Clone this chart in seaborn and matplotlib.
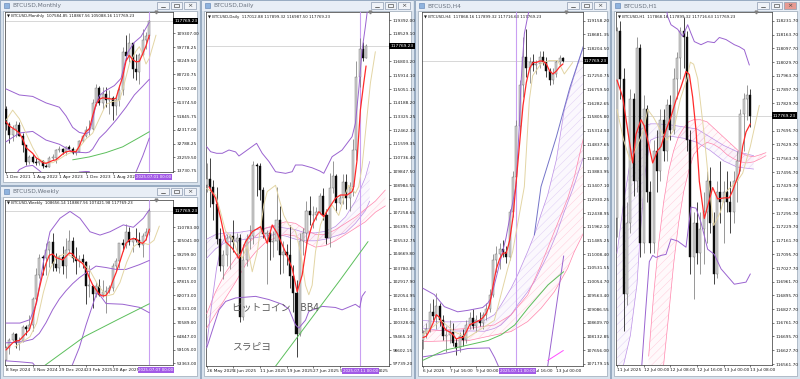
import numpy as np
import matplotlib
matplotlib.use("Agg")
import matplotlib.pyplot as plt
from matplotlib.patches import Rectangle
from matplotlib.transforms import blended_transform_factory, offset_copy
import seaborn as sns

sns.set_theme(style="white")
plt.rcParams["font.family"] = ["DejaVu Sans", "Noto Sans CJK JP"]
plt.rcParams["hatch.linewidth"] = 0.3

# ======================= DATA =======================
CURRENT = 117769.23

# ---- Monthly (Dec 2021 .. Jul 2025) ----
mn_open = [57000, 46200, 38500, 43200, 45500, 37700, 31800, 19900, 23300, 20000, 19400, 20500, 17200, 16500, 23100, 23100,
           28500, 29200, 27200, 30500, 29200, 26000, 27000, 34600, 37700, 42300, 42600, 61100, 71300, 60600, 67500, 62700,
           64600, 59000, 63300, 70200, 96400, 93400, 102400, 84300, 82500, 94200, 104600, 107585]
mn_high = [59000, 47900, 45800, 48200, 47400, 40000, 31900, 24600, 25200, 22800, 21000, 21400, 18400, 23900, 25200, 29200,
           31000, 29800, 31400, 31800, 30200, 27500, 35200, 38400, 44700, 48900, 64000, 73800, 72700, 71900, 72000, 70000,
           65600, 66500, 73600, 99600, 108300, 109600, 102500, 95000, 95700, 112000, 110500, 118868]
mn_low = [42000, 33000, 34300, 37200, 37700, 26700, 17600, 18800, 19600, 18200, 18200, 15500, 16300, 16500, 21400, 19600,
          27000, 25800, 24800, 28900, 25300, 24900, 26600, 34100, 37600, 38500, 41900, 59000, 59200, 56600, 58400, 53500,
          49100, 52600, 58900, 66800, 90500, 89200, 78200, 76600, 74400, 93400, 98200, 105088]
mn_close = [46200, 38500, 43200, 45500, 37700, 31800, 19900, 23300, 20000, 19400, 20500, 17200, 16500, 23100, 23100, 28500,
            29200, 27200, 30500, 29200, 26000, 27000, 34600, 37700, 42300, 42600, 61100, 71300, 60600, 67500, 62700, 64600,
            59000, 63300, 70200, 96400, 93400, 102400, 84300, 82500, 94200, 104600, 107100, 117769.23]
mn_red = [48000, 45000, 43500, 42000, 40000, 36000, 30000, 28000, 26000, 23000, 21500, 19500, 19000, 20000, 21000, 21500,
          23500, 25500, 27000, 27500, 27300, 27100, 31000, 37000, 41000, 43000, 52000, 60000, 63500, 64500, 64200, 64000,
          63500, 64200, 72000, 79000, 90000, 94000, 91000, 89500, 89800, 95000, 100500, 108000]
mn_beige = [(0, 49000), (2, 56000), (4, 50000), (6, 40000), (8, 30000), (10, 22000), (12, 19500), (14, 19500), (16, 22000),
            (18, 25000), (20, 27000), (22, 30000), (24, 36000), (26, 40000), (28, 50000), (30, 60000), (32, 62000),
            (34, 62500), (35, 70000), (37, 88000), (39, 97000), (40, 100000), (41, 95000), (42, 88000), (43, 92000),
            (44, 100000), (45, 108000)]
mn_upper = [(0, 70700), (4, 66500), (8, 65500), (12, 61000), (16, 58000), (18, 52000), (20, 44000), (22, 40500), (24, 39500),
            (25, 41000), (26, 49000), (27, 60000), (28, 66000), (29.5, 69000), (32.5, 73000), (34.5, 78000), (36.5, 96000),
            (38.5, 103000), (40.5, 107000), (43, 117000)]
mn_mid = [(0, 34000), (4, 40100), (8, 41200), (12, 35200), (16, 32300), (20, 27000), (22, 26700), (24, 26400), (25, 26900),
          (26, 29000), (28, 36500), (30, 41000), (33, 49000), (36, 58000), (38.5, 66500), (41, 72500), (43, 77400)]
mn_lower = [(0, 2000), (2, 8000), (4, 14700), (6, 17000), (8, 17600), (10, 14000), (12, 10000), (14, 7000), (16, 6500),
            (18, 8000), (20, 9500), (22, 13000), (24, 13400), (25, 13300), (26, 9000), (28, 3000), (32, 3000), (36, 5000),
            (38, 8000), (39, 13000), (41, 24000), (43, 36600)]
mn_green = [(20, 21500), (25, 23500), (30, 26500), (35, 30500), (40, 37000), (43, 41000)]
mn_yticks = [13730.75, 23259.50, 32788.25, 42317.00, 51845.75, 61374.50, 71192.00, 80720.75, 90249.50, 99778.25, 109307.00]
mn_xticks = [0, 8, 16, 24, 32]
mn_xlabels = ["1 Dec 2021", "1 Aug 2022", "1 Apr 2023", "1 Dec 2023", "1 Aug 2024"]

# ---- Weekly (8 Sep 2024 .. 7 Jul 2025) ----
wk_open = [54800, 60000, 63300, 65600, 62100, 62900, 68900, 68000, 69400, 80400, 90500, 98000, 97900, 101200, 104500, 95200,
           93700, 98300, 94500, 101300, 104800, 97700, 96500, 97500, 96200, 86000, 86200, 82600, 86100, 82400, 83500, 83800,
           85200, 94600, 96500, 104100, 103200, 109000, 104600, 105700, 105500, 103300, 107300, 108656]
wk_high = [60600, 64100, 66500, 66000, 64500, 69400, 69500, 73600, 81500, 93500, 99600, 98900, 104000, 105000, 108300, 99900,
           98900, 102700, 106400, 109600, 106500, 102500, 99000, 99500, 96500, 95000, 86300, 87500, 88800, 88500, 86100,
           86500, 95700, 97900, 104200, 105800, 112000, 110700, 106800, 110600, 108900, 108500, 110600, 118868]
wk_low = [54600, 57500, 62700, 59800, 58900, 62400, 65200, 67500, 66800, 80200, 89500, 90800, 90500, 94200, 92200, 92500,
          91500, 91200, 89300, 99500, 96000, 91200, 94100, 93400, 78200, 81200, 76600, 81200, 81600, 81300, 74400, 83000,
          84000, 92800, 93400, 100700, 102000, 103100, 100400, 104400, 102500, 98200, 105300, 107422]
wk_close = [60000, 63300, 65600, 62100, 62900, 68900, 68000, 69400, 80400, 90500, 98000, 97900, 101200, 104500, 95200, 93700,
            98300, 94500, 101300, 104800, 97700, 96500, 97500, 96200, 86000, 86200, 82600, 86100, 82400, 83500, 83800, 85200,
            94600, 96500, 104100, 103200, 109000, 104600, 105700, 105500, 103300, 107300, 108800, 117769.23]
wk_red = [59000, 60500, 62000, 62800, 63000, 64500, 66000, 67500, 72000, 78500, 85000, 91000, 95500, 99000, 99500, 98000,
          97500, 97000, 98500, 100000, 99500, 97500, 96500, 95500, 93000, 89500, 86500, 84500, 82500, 81800, 82000, 84000,
          88000, 91500, 95500, 100000, 104000, 105500, 106000, 106000, 104500, 104000, 105500, 110000]
wk_beige = [(2.7, 60350), (7.2, 64600), (9.2, 70350), (11.2, 83200), (13.2, 93200), (15.2, 98200), (17.7, 99600),
            (20.2, 98200), (22.7, 96000), (25.2, 92500), (27.7, 86100), (30.2, 81800), (32.2, 82500), (34.2, 87500),
            (36.2, 96000), (38.2, 102500), (40.2, 104600), (42.7, 103500), (44.4, 105300), (46, 111300)]
wk_upper = [(0, 70350), (4.2, 70350), (7.2, 71800), (9.2, 78900), (11.2, 96000), (13.2, 108900), (16.2, 114600),
            (19.2, 117500), (22.2, 114600), (25.2, 108900), (28.2, 107500), (31.2, 108900), (35.2, 111800), (38.2, 110800),
            (41.2, 114600), (43, 118200)]
wk_mid = [(0, 62000), (5, 62500), (8, 63500), (10, 66000), (12, 70500), (14, 76000), (16, 80500), (18, 84000), (20, 87000),
          (22, 89500), (24, 91500), (27, 94400), (30, 93800), (33, 93000), (36, 93000), (40, 95000), (43, 96800)]
wk_lower = [(0, 54400), (4, 54000), (8, 53500), (10, 50000), (12, 46000), (15, 44000), (18, 48000), (19.7, 52000),
            (22, 60000), (24, 69500), (26, 78000), (27.2, 83000), (28, 82500), (30, 78600), (35, 78300), (40, 77000),
            (43, 74700)]
wk_green = [(11, 51800), (23.5, 64600), (33.5, 71800), (43, 78500)]
wk_yticks = [53363.00, 59105.00, 64847.00, 70589.00, 76331.00, 82073.00, 87815.00, 93557.00, 99299.00, 105041.00, 110783.00]
wk_xticks = [0, 8, 16, 24, 32]
wk_xlabels = ["8 Sep 2024", "3 Nov 2024", "29 Dec 2024", "23 Feb 2025", "20 Apr 2025"]

# ---- Daily (26 May 2025 .. 13 Jul 2025) ----
d_open = [109000, 109400, 108900, 107800, 105600, 103900, 104600, 105700, 105800, 105400, 105700, 100700, 104300, 105600,
          105800, 110300, 110200, 108700, 105900, 106000, 105400, 105500, 106800, 104600, 104800, 104600, 103300, 102200,
          99600, 105500, 106000, 107400, 107100, 107100, 107300, 108300, 107100, 105700, 108800, 109600, 107900, 108200,
          109200, 108200, 108900, 111200, 115800, 117600, 117012.88]
d_high = [110400, 110700, 109300, 108900, 106300, 104900, 105900, 105900, 106800, 106000, 105900, 105300, 105900, 106500,
          110500, 110400, 110400, 108900, 106200, 106200, 106100, 108900, 107700, 105500, 105300, 106500, 104000, 103000,
          106000, 106300, 108000, 108300, 107700, 107600, 108500, 108800, 107500, 109800, 110500, 109700, 108400, 109700,
          109700, 109200, 111900, 116800, 118300, 118000, 117899.32]
d_low = [108600, 107600, 106800, 105300, 103600, 103100, 103900, 103700, 104800, 104400, 100400, 100500, 103900, 105000,
         105300, 108300, 108100, 105700, 102800, 104300, 104500, 104900, 103400, 103500, 104000, 102500, 101000, 98200,
         99500, 104600, 105100, 106500, 106300, 106800, 107200, 106800, 105300, 105100, 108500, 107300, 107800, 107800,
         107500, 107400, 108300, 110600, 115200, 116800, 116987.50]
d_close = [109400, 108900, 107800, 105600, 103900, 104600, 105700, 105800, 105400, 105700, 100700, 104300, 105600, 105800,
           110300, 110200, 108700, 105900, 106000, 105400, 105500, 106800, 104600, 104800, 104600, 103300, 102200, 99600,
           105500, 106000, 107400, 107100, 107100, 107300, 108300, 107100, 105700, 108800, 109600, 107900, 108200, 109200,
           108200, 108900, 111200, 115800, 117600, 117012.88, 117769.23]
d_red = [(0.7, 108900), (2.7, 108178), (4.2, 106918), (5.7, 105447), (7.7, 105025), (9.7, 104398), (11.7, 105447),
         (13.7, 106074), (16.2, 106390), (18.2, 105340), (19.7, 106496), (21.2, 105970), (23.2, 105025), (25.7, 103765),
         (27.2, 102294), (28.7, 103345), (30.2, 105447), (31.7, 106496), (33.7, 107334), (35.2, 107020), (36.7, 107545),
         (38.7, 108178), (40.2, 108386), (42.2, 108386), (43.7, 108594), (44.2, 108909), (45.2, 110591), (46.2, 113741),
         (47.2, 115423), (47.9, 116513)]
d_beige = [(0, 108800), (2.7, 108400), (4.2, 107300), (5.7, 106100), (7.7, 105700), (9.2, 104800), (10.7, 104400),
           (12.2, 105200), (13.7, 103550), (15.2, 104800), (16.2, 106300), (17.2, 107800), (18.2, 108600), (20.7, 109000),
           (21.7, 108200), (23.2, 107100), (24.7, 106500), (26.7, 106100), (28.2, 104800), (29.7, 102700), (30.7, 102100),
           (31.7, 102700), (32.7, 104800), (34.2, 106500), (35.7, 107300), (37.7, 107750), (39.7, 107100), (41.2, 108200),
           (42.7, 109000), (44.7, 108500), (45.7, 108909), (46.7, 110169), (47.7, 112273), (49.2, 115423), (50.7, 117414)]
d_upper = [(0, 111429), (1.2, 111114), (3, 111013), (4.7, 111013), (6.7, 111221), (8.7, 111100), (9.7, 110843),
           (12.2, 111221), (15, 111643), (16.7, 111013), (18.7, 110500), (20.7, 109854), (23.7, 109750), (25.7, 109854),
           (26.7, 110276), (28.7, 110276), (31.7, 110100), (34, 109900), (35.2, 109753), (37.7, 110800), (40.7, 111221),
           (43.7, 112059), (44.7, 112900), (45.7, 115000), (46.7, 117500), (47.7, 119000), (48.3, 120000)]
d_lower = [(0, 98750), (3.7, 101150), (5.7, 101680), (8.7, 101900), (14.7, 102000), (18.7, 101800), (22.7, 101500),
           (24.7, 101200), (26.7, 100200), (27.7, 100000), (29.7, 100500), (30.7, 101050), (34.7, 101370), (38.7, 101300),
           (40.7, 101150), (44.7, 101500), (46, 101300), (46.7, 102000), (47.7, 102300)]
d_green = [(20.7, 97600), (30, 100200), (40, 103000), (48.5, 105450)]
d_pink_ribbon = [(0, 100900, 100000), (2.7, 102300, 100900), (5.7, 103500, 101900), (8.7, 104400, 102900),
                 (11.7, 105200, 104000), (14.7, 105800, 104800), (17.7, 106300, 105400), (20.7, 106500, 105700),
                 (23.7, 106700, 105900), (26.7, 106600, 105800), (29.7, 106200, 105400), (32.7, 105900, 105100),
                 (35.7, 105900, 105200), (38.7, 106200, 105500), (41.7, 106600, 105900), (44.7, 107000, 106300),
                 (47.7, 107500, 106700), (50.7, 108000, 107300), (53.7, 108700, 107700)]
d_purple_ribbon = [(0, 105600, 104400), (2.7, 105900, 105000), (5.7, 106000, 105400), (8.7, 106000, 105500),
                   (11.7, 106100, 105600), (14.7, 106200, 105700), (17.7, 106300, 105800), (20.7, 106400, 105900),
                   (23.7, 106300, 105800), (26.7, 106200, 105600), (29.7, 106000, 105500), (32.7, 106000, 105500),
                   (35.7, 106100, 105600), (38.7, 106400, 105800), (41.7, 107000, 106000), (44.7, 108000, 106600),
                   (47.7, 109500, 107400), (49, 110500, 108000)]
d_purple_lead = [(0, 98900), (1.5, 101500), (3, 103800), (4.5, 105300), (6, 105900)]
d_yticks = [97739.20, 98602.15, 99465.10, 100328.05, 101191.00, 102054.95, 102917.90, 103780.85, 104669.80, 105532.75,
            106395.70, 107258.65, 108121.60, 108984.55, 109847.50, 110736.40, 111599.35, 112462.30, 113325.25, 114188.20,
            115051.15, 115914.10, 116803.20, 118529.10, 119392.00]
d_xticks = [0, 8, 16, 24, 32, 40]
d_xlabels = ["26 May 2025", "3 Jun 2025", "11 Jun 2025", "19 Jun 2025", "27 Jun 2025", "5"]
d_tail_label = (51.4, "2025")

# ---- H4 (6 Jul 08:00 .. 13 Jul 08:00) ----
h4_open = [108000, 108250, 108400, 109000, 108850, 109200, 108700, 108150, 108200, 108300, 107900, 107750, 108150, 108000,
           108550, 108800, 108500, 108700, 108600, 108900, 109100, 109600, 110800, 111000, 111200, 111100, 110900, 112500,
           113700, 115500, 116900, 117900, 117500, 117700, 117600, 117650, 117900, 117700, 117400, 117100, 117300, 117700,
           117868.16]
h4_high = [108350, 108600, 109300, 109450, 109650, 109300, 108900, 108500, 108700, 108600, 108100, 108300, 108400, 108700,
           109000, 109100, 108900, 109000, 109000, 109300, 109800, 111000, 111300, 111400, 111500, 111300, 112600, 113900,
           115700, 117100, 118600, 118870, 117900, 118000, 117800, 118100, 118100, 117900, 117500, 117500, 117800, 117950,
           117899.32]
h4_low = [107700, 108100, 108300, 108700, 108400, 108500, 108000, 107600, 107900, 107800, 107500, 107600, 107800, 107900,
          108400, 108400, 108300, 108500, 108400, 108700, 109000, 109500, 110400, 110500, 110900, 110700, 110800, 112300,
          113500, 115300, 116500, 117200, 117000, 117400, 117300, 117500, 117600, 117200, 116900, 116950, 117200, 117600,
          117716.63]
h4_close = [108250, 108400, 109000, 108850, 109200, 108700, 108150, 108200, 108300, 107900, 107750, 108150, 108000, 108550,
            108800, 108500, 108700, 108600, 108900, 109100, 109600, 110800, 111000, 111200, 111100, 110900, 112500, 113700,
            115500, 116900, 117900, 117500, 117700, 117600, 117650, 117900, 117700, 117400, 117100, 117300, 117700,
            117868.16, 117769.23]
h4_red = [108100, 108150, 108350, 108600, 108900, 108800, 108500, 108350, 108300, 108200, 108050, 108100, 108100, 108300,
          108550, 108600, 108650, 108700, 108800, 108950, 109250, 109900, 110500, 110850, 111050, 111050, 111500, 112300,
          113600, 114900, 116200, 117000, 117500, 117700, 117700, 117750, 117750, 117650, 117400, 117300, 117400, 117550,
          117650]
h4_beige = [(0, 108200), (5.4, 108700), (9.4, 108300), (13.4, 108100), (17.4, 108400), (21.4, 108700), (23.4, 109600),
            (25.4, 110500), (26.9, 111100), (30.4, 113367), (31.9, 116391), (32.9, 117240), (35.4, 117660), (37.9, 117770),
            (40.4, 117770), (42.4, 117300), (44.9, 117700)]
h4_upper = [(0, 109820), (3.4, 109600), (6.4, 109180), (10.4, 109000), (13.4, 109050), (17.9, 109150), (19.4, 109300),
            (20.4, 109470), (21.9, 110170), (23.4, 110870), (24.9, 111580), (26.4, 112510), (27.9, 113400), (28.9, 115500),
            (29.4, 117000), (30.4, 118700), (31.4, 119300), (32.4, 119800)]
h4_lower_a = [(0, 107430), (5.4, 107520), (13.4, 107720), (19.9, 107740), (21.5, 107400), (23.4, 106900)]
h4_lower_b = [(36.5, 106900), (37.4, 107100), (42.2, 110950)]
h4_magenta = [(37.4, 107300), (42.1, 107650)]
h4_green = [(0, 107310), (6.5, 107660), (13.5, 107840), (19.5, 108000), (23.5, 108200), (27.5, 108540), (31.5, 109130),
            (37.5, 109940), (42.2, 110400)]
h4_blue = [(33.4, 111681), (35.4, 113367), (40, 115100), (44, 116800), (48.4, 118370)]
h4_purple_ribbon = [(0, 108700, 108430), (5, 108650, 108350), (10, 108650, 108330), (15, 108680, 108330),
                    (18.4, 108700, 108320), (21.4, 108900, 108420), (23.4, 109240, 108540), (26.4, 109820, 108890),
                    (28.4, 110290, 109240), (31.4, 111100, 109700), (33.4, 111681, 110050), (35.4, 112400, 110520),
                    (37.4, 113076, 110980), (40, 114300, 111700), (42.4, 116060, 112500), (45, 117100, 113300),
                    (48.4, 118370, 114500)]
h4_pink_ribbon = [(0, 108310, 107960), (8.4, 108380, 107990), (13.4, 108420, 107990), (21.4, 108541, 108190),
                  (26.4, 108890, 108310), (31.4, 109590, 108660), (35.4, 110636, 109120), (39.4, 111800, 109700),
                  (43.4, 112960, 110520), (45.4, 113700, 111099), (48.4, 115200, 111800)]
h4_yticks = [107179.15, 107656.00, 108132.85, 108609.70, 109086.55, 109563.40, 110054.70, 110531.55, 111008.40, 111485.25,
             111962.10, 112438.95, 112930.25, 113407.10, 113883.95, 114360.80, 114837.65, 115314.50, 115805.80, 116282.65,
             116759.50, 117250.75, 118204.50, 118681.35, 119158.20]
h4_xticks = [0, 8, 16, 40]
h4_xlabels = ["6 Jul 2025", "7 Jul 16:00", "9 Jul 00:00", "13 Jul 00:00"]
h4_tail_label = (33.3, "Jul 16:00")

# ---- H1 (11 Jul 16:00 .. 13 Jul 08:00) ----
h1_open = [117270, 118180, 117950, 116900, 117250, 117850, 117450, 118100, 117150, 117800, 117400, 117150, 117600, 117500,
           117750, 117600, 117820, 117700, 117950, 118050, 118180, 118150, 117650, 117080, 117250, 117100, 117220, 117300,
           117450, 117250, 117000, 117400, 117350, 117400, 117350, 117300, 117450, 117550, 117780, 117850, 117868.16]
h1_high = [118200, 118230, 118000, 117350, 117900, 117880, 118150, 118120, 117870, 117820, 117450, 117650, 117700, 117800,
           117800, 117850, 117870, 118000, 118080, 118200, 118250, 118180, 117700, 117300, 117350, 117300, 117400, 117500,
           117520, 117300, 117450, 117550, 117450, 117500, 117450, 117500, 117600, 117800, 117880, 117920, 117899.32]
h1_low = [117180, 117850, 116720, 116850, 117200, 117380, 117400, 117080, 117100, 117350, 117100, 117100, 117400, 117450,
          117550, 117550, 117650, 117680, 117850, 117950, 118000, 117600, 117000, 116880, 117050, 117000, 117050, 117150,
          117200, 116950, 116980, 117250, 117150, 117300, 117200, 117250, 117350, 117500, 117600, 117750, 117716.63]
h1_close = [118180, 117950, 116900, 117250, 117850, 117450, 118100, 117150, 117800, 117400, 117150, 117600, 117500, 117750,
            117600, 117820, 117700, 117950, 118050, 118180, 118150, 117650, 117080, 117250, 117100, 117220, 117300, 117450,
            117250, 117000, 117400, 117350, 117400, 117350, 117300, 117450, 117550, 117780, 117850, 117868.16, 117769.23]
h1_red = [(0, 117943), (1.7, 117860), (3.2, 117700), (4.7, 117540), (5.7, 117680), (7.2, 117750), (8.2, 117720),
          (9.2, 117650), (10.7, 117540), (12.2, 117600), (13.2, 117620), (14.7, 117700), (16.2, 117765), (17.7, 117845),
          (19.2, 117910), (20.7, 117985), (21.7, 117970), (22.7, 117860), (23.7, 117700), (24.7, 117450), (26.2, 117270),
          (27.2, 117330), (28.7, 117420), (30.2, 117365), (32.2, 117370), (33.7, 117370), (34.7, 117405), (35.7, 117450),
          (36.7, 117490), (37.7, 117620), (38.7, 117690), (40, 117730)]
h1_beige = [(0, 117800), (2, 117650), (4, 117550), (6, 117620), (8, 117700), (9.2, 117800), (11, 117760), (13, 117700),
            (15, 117650), (17, 117700), (19, 117850), (21, 117950), (22, 118030), (23, 118020), (24.2, 117950), (26, 117700),
            (27.5, 117450), (29, 117235), (31, 117300), (32.7, 117400), (34, 117420), (36, 117450), (37.7, 117490),
            (40, 117620), (42.7, 117820)]
h1_upper = [(14.5, 118320), (15.2, 118252), (16.2, 118212), (18.2, 118190), (19.7, 118155), (21.2, 118212), (22.2, 118170),
            (23.2, 118130), (25.2, 118115), (27.2, 118130), (29.2, 118125), (30.7, 118150), (32.7, 118140), (35.2, 118115),
            (36.7, 118105), (38.2, 118090), (39.7, 118016)]
h1_lower = [(7.2, 116500), (8.5, 116800), (9.7, 117060), (10.7, 117090), (11.7, 117080), (13.2, 117090), (14.7, 117095),
            (16.2, 117170), (18.2, 117160), (20.7, 117130), (22.2, 117325), (23.7, 117320), (25.2, 117250), (27.2, 117120),
            (29.2, 117095), (31.2, 117025), (35.2, 116950), (38.7, 116960), (40, 117000)]
h1_purple_ribbon = [(0, 117100, 116500), (2, 117350, 116560), (4, 117550, 116700), (6, 117680, 116950), (7, 117700, 117200),
                    (8.5, 117720, 117500), (10, 117730, 117650), (12, 117730, 117665), (16, 117725, 117670),
                    (20, 117715, 117660), (24, 117705, 117640), (28, 117665, 117600), (32, 117625, 117550),
                    (36, 117595, 117520), (41, 117575, 117510)]
h1_pink_ribbon = [(9.5, 116600, 116500), (11, 116900, 116500), (12.5, 117150, 116520), (14, 117350, 116560),
                  (15.5, 117500, 116800), (17, 117600, 117050), (18.5, 117670, 117250), (20, 117710, 117400),
                  (21.5, 117740, 117500), (23, 117750, 117580), (25, 117750, 117620), (27, 117740, 117640),
                  (29, 117710, 117630), (31, 117680, 117610), (33, 117650, 117580), (35, 117620, 117560),
                  (37, 117590, 117545), (39, 117575, 117540), (41, 117570, 117545), (43, 117580, 117560),
                  (44.7, 117590, 117575)]
h1_yticks = [116561.70, 116627.70, 116695.70, 116761.70, 116827.70, 116895.70, 116961.70, 117027.70, 117095.70, 117161.70,
             117229.70, 117295.70, 117361.70, 117429.70, 117495.70, 117563.70, 117629.70, 117695.70, 117829.70, 117897.70,
             117963.70, 118029.70, 118097.70, 118163.70, 118231.70]
h1_xticks = [0, 8, 16, 24, 32, 40]
h1_xlabels = ["11 Jul 2025", "12 Jul 00:00", "12 Jul 08:00", "12 Jul 16:00", "13 Jul 00:00", "13 Jul 08:00"]

# ======================= COLOURS =======================
RED = "#ff2a2a"
BEIGE = "#e3d5a4"
PURPLE = "#9a63d0"
GREEN = "#5cbf5c"
CURSOR = "#c9a0f2"
PINK_EDGE = "#ff86ad"
PINK_HATCH = "#ffc4d6"
PURP_EDGE = "#bb8fe6"
PURP_HATCH = "#dcc8f3"

W_PX, H_PX = 800, 379
fig = plt.figure(figsize=(8.0, 3.79), dpi=100)
fig.patch.set_facecolor("#c3d0de")

bg = fig.add_axes([0, 0, 1, 1])
bg.set_xlim(0, W_PX)
bg.set_ylim(H_PX, 0)
bg.axis("off")


def window(title, x0, y0, x1, y1, active=False):
    w, h = x1 - x0, y1 - y0
    bg.add_patch(Rectangle((x0, y0), w, h, facecolor="#d8e2ed", edgecolor="#90a4bc", lw=0.6))
    bg.add_patch(Rectangle((x0 + 1, y0 + 1), w - 2, 9.5, facecolor="#e8eef6", edgecolor="none"))
    bg.add_patch(Rectangle((x0 + 4, y0 + 3), 5, 5, facecolor="#8fb3de", edgecolor="#5a7fb0", lw=0.4))
    bg.text(x0 + 12, y0 + 6, title, fontsize=4.2, color="#6a7380", va="center", ha="left")
    for k in range(3):
        bx = x1 - 43 + k * 13.5
        fc = "#e79a92" if (active and k == 2) else "#f0f3f8"
        bg.add_patch(Rectangle((bx, y0 + 2), 11.5, 7.2, facecolor=fc, edgecolor="#8d9bb0", lw=0.5))
    bg.plot([x1 - 39.5, x1 - 35.0], [y0 + 6.8, y0 + 6.8], color="#555", lw=0.6)
    bg.add_patch(Rectangle((x1 - 26.0, y0 + 4.0), 4.5, 3.4, facecolor="none", edgecolor="#555", lw=0.5))
    bg.text(x1 - 10.2, y0 + 5.8, "×", fontsize=4.5, color="#444", ha="center", va="center")
    bg.add_patch(Rectangle((x0 + 3, y0 + 10.5), w - 6, h - 13.5, facecolor="white", edgecolor="#9aa7b6", lw=0.5))


window("BTCUSD,Monthly", 0, 0, 200, 185)
window("BTCUSD,Weekly", 0, 186, 200, 379)
window("BTCUSD,Daily", 201, 0, 414, 379)
window("BTCUSD,H4", 415, 0, 610, 379)
window("BTCUSD,H1", 611, 0, 800, 379, active=True)


def px_axes(x0, y0, x1, y1):
    return fig.add_axes([x0 / W_PX, 1 - y1 / H_PX, (x1 - x0) / W_PX, (y1 - y0) / H_PX])


def candles(ax, o, h, l, c, minh):
    o, h, l, c = (np.asarray(v, float) for v in (o, h, l, c))
    x = np.arange(len(o))
    bull = c >= o
    ax.vlines(x[bull], l[bull], h[bull], color="#7c7c7c", lw=0.55, zorder=4)
    ax.vlines(x[~bull], l[~bull], h[~bull], color="#111111", lw=0.55, zorder=4)
    bottom = np.minimum(o, c)
    height = np.maximum(np.abs(c - o), minh)
    ax.bar(x[bull], height[bull], bottom=bottom[bull], width=0.64, color="#d2d2d2", edgecolor="#6a6a6a",
           linewidth=0.3, zorder=5)
    ax.bar(x[~bull], height[~bull], bottom=bottom[~bull], width=0.64, color="#0b0b0b", edgecolor="#0b0b0b",
           linewidth=0.3, zorder=5)


def line(ax, pts, color, lw, z=6):
    xs = [p[0] for p in pts]
    ys = [p[1] for p in pts]
    sns.lineplot(x=xs, y=ys, ax=ax, color=color, linewidth=lw, sort=False, estimator=None, legend=False, zorder=z)


def series(vals):
    return list(enumerate(vals))


def ribbon(ax, trip, edge, hatch_col, fill):
    xs = [t[0] for t in trip]
    top = [t[1] for t in trip]
    bot = [t[2] for t in trip]
    ax.fill_between(xs, bot, top, facecolor=fill, edgecolor=hatch_col, hatch="////", linewidth=0, zorder=2)
    line(ax, list(zip(xs, top)), edge, 0.5, z=3)
    line(ax, list(zip(xs, bot)), edge, 0.5, z=3)


def finish(ax, xlim, ylim, yt, xt, xtl, header, cursor=None, date_txt=None, tail=None, box_shift=0.3):
    ax.set_xlim(*xlim)
    ax.set_ylim(*ylim)
    ax.set_facecolor("white")
    ax.set_xlabel("")
    ax.set_ylabel("")
    ax.yaxis.tick_right()
    ax.set_yticks(yt)
    ax.set_yticklabels([f"{v:.2f}" for v in yt])
    ax.set_xticks(xt)
    ax.set_xticklabels(xtl)
    for lb in ax.get_xticklabels():
        lb.set_ha("left")
    ax.tick_params(axis="both", length=1.6, width=0.4, labelsize=3.1, pad=0.8, colors="#1a1a1a", direction="out")
    ax.tick_params(axis="y", right=True, left=False, labelright=True, labelleft=False)
    ax.tick_params(axis="x", bottom=True)
    for s in ax.spines.values():
        s.set_color("#333333")
        s.set_linewidth(0.5)
        s.set_visible(True)
    ax.axhline(CURRENT, color="#c8c8c8", lw=0.5, zorder=1)
    if cursor is not None:
        ax.axvline(cursor, color=CURSOR, lw=0.8, zorder=3)
    ax.text(0.012, 0.992, "▼ " + header, transform=ax.transAxes, fontsize=2.8, color="#1a1a1a", ha="left", va="top",
            zorder=9)
    ax.plot([0.896], [1.0], marker="v", markersize=2.0, color="#808080", transform=ax.transAxes, clip_on=False,
            zorder=9)
    tr = blended_transform_factory(ax.transAxes, ax.transData)
    ax.text(1.006, CURRENT, f"{CURRENT:.2f}", transform=tr, fontsize=3.1, color="white", ha="left", va="center",
            bbox=dict(boxstyle="square,pad=0.3", fc="black", ec="none"), zorder=10, clip_on=False)
    trx = offset_copy(blended_transform_factory(ax.transData, ax.transAxes), fig=fig, x=0, y=-3.0, units="dots")
    if date_txt is not None:
        ax.text(cursor + box_shift, 0, date_txt, transform=trx, fontsize=2.9, color="white", ha="center", va="top",
                bbox=dict(boxstyle="square,pad=0.2", fc="#a25ae6", ec="none"), zorder=10, clip_on=False)
    if tail is not None:
        ax.text(tail[0], 0, tail[1], transform=trx, fontsize=3.1, color="#1a1a1a", ha="left", va="top",
                zorder=9, clip_on=False)


# ---------------- Monthly ----------------
ax = px_axes(5, 12.3, 173, 172)
ylim = (13036, 123880)
line(ax, mn_lower, PURPLE, 0.7)
line(ax, mn_mid, PURPLE, 0.7)
line(ax, mn_upper, PURPLE, 0.7)
line(ax, mn_green, GREEN, 0.7)
candles(ax, mn_open, mn_high, mn_low, mn_close, (ylim[1] - ylim[0]) / 160 * 0.8)
line(ax, mn_beige, BEIGE, 0.7)
line(ax, series(mn_red), RED, 0.9)
finish(ax, (-0.3, 50.1), ylim, mn_yticks, mn_xticks, mn_xlabels,
       "BTCUSD,Monthly  107584.85 118867.56 105088.16 117769.23", cursor=43, date_txt="2025.07.01 00:00",
       box_shift=1.2)

# ---------------- Weekly ----------------
ax = px_axes(5, 200, 173, 365)
ylim = (52645, 122310)
line(ax, wk_lower, PURPLE, 0.7)
line(ax, wk_mid, PURPLE, 0.7)
line(ax, wk_upper, PURPLE, 0.7)
line(ax, wk_green, GREEN, 0.7)
candles(ax, wk_open, wk_high, wk_low, wk_close, (ylim[1] - ylim[0]) / 165 * 0.8)
line(ax, wk_beige, BEIGE, 0.7)
line(ax, series(wk_red), RED, 0.9)
finish(ax, (-0.3, 50.1), ylim, wk_yticks, wk_xticks, wk_xlabels,
       "BTCUSD,Weekly  108656.14 118867.56 107421.98 117769.23", cursor=43, date_txt="2025.07.07 00:00",
       box_shift=2.0)

# ---------------- Daily ----------------
ax = px_axes(206, 12, 389, 366)
ylim = (97613, 119915)
ribbon(ax, d_purple_ribbon, PURP_EDGE, PURP_HATCH, (0.80, 0.68, 0.95, 0.08))
ribbon(ax, d_pink_ribbon, PINK_EDGE, PINK_HATCH, (1.0, 0.70, 0.80, 0.08))
line(ax, d_purple_lead, PURP_EDGE, 0.6, z=3)
line(ax, d_lower, PURPLE, 0.7)
line(ax, d_upper, PURPLE, 0.7)
line(ax, d_green, GREEN, 0.7)
candles(ax, d_open, d_high, d_low, d_close, (ylim[1] - ylim[0]) / 354 * 0.8)
line(ax, d_beige, BEIGE, 0.7)
line(ax, d_red, RED, 0.9)
ax.text(0.142, 0.165, "ビットコイン　BB4", transform=ax.transAxes, fontsize=7, color="#5c5c5c",
        family=["Noto Sans CJK JP", "DejaVu Sans"], ha="left", va="center", zorder=8)
ax.text(0.142, 0.055, "スラピヨ", transform=ax.transAxes, fontsize=7, color="#5c5c5c",
        family=["Noto Sans CJK JP", "DejaVu Sans"], ha="left", va="center", zorder=8)
finish(ax, (-0.2, 54.8), ylim, d_yticks, d_xticks, d_xlabels,
       "BTCUSD,Daily  117012.88 117899.32 116987.50 117769.23", cursor=46, date_txt="2025.07.11 00:00",
       tail=d_tail_label)

# ---------------- H4 ----------------
ax = px_axes(422, 12, 583, 366)
ylim = (107109, 119462)
ribbon(ax, h4_purple_ribbon, PURP_EDGE, PURP_HATCH, (0.80, 0.68, 0.95, 0.08))
ribbon(ax, h4_pink_ribbon, PINK_EDGE, PINK_HATCH, (1.0, 0.70, 0.80, 0.08))
line(ax, h4_blue, "#7474c8", 0.7, z=3)
line(ax, h4_lower_a, PURPLE, 0.7)
line(ax, h4_lower_b, PURPLE, 0.7)
line(ax, h4_upper, PURPLE, 0.7)
line(ax, h4_magenta, "#ff4cff", 0.7)
line(ax, h4_green, GREEN, 0.7)
candles(ax, h4_open, h4_high, h4_low, h4_close, (ylim[1] - ylim[0]) / 354 * 0.8)
line(ax, h4_beige, BEIGE, 0.7)
line(ax, series(h4_red), RED, 0.9)
finish(ax, (-0.3, 48.0), ylim, h4_yticks, h4_xticks, h4_xlabels,
       "BTCUSD,H4  117868.16 117899.32 117716.63 117769.23", cursor=28, date_txt="2025.07.11 00:00",
       tail=h4_tail_label)

# ---------------- H1 ----------------
ax = px_axes(616, 12, 772, 365)
ylim = (116557, 118274)
ribbon(ax, h1_purple_ribbon, PURP_EDGE, PURP_HATCH, (0.80, 0.68, 0.95, 0.08))
ribbon(ax, h1_pink_ribbon, PINK_EDGE, PINK_HATCH, (1.0, 0.70, 0.80, 0.08))
line(ax, h1_lower, PURPLE, 0.7)
line(ax, h1_upper, PURPLE, 0.7)
candles(ax, h1_open, h1_high, h1_low, h1_close, (ylim[1] - ylim[0]) / 353 * 0.8)
line(ax, h1_beige, BEIGE, 0.7)
line(ax, h1_red, RED, 0.9)
finish(ax, (-0.3, 46.5), ylim, h1_yticks, h1_xticks, h1_xlabels,
       "BTCUSD,H1  117868.16 117899.32 117716.63 117769.23")

fig.savefig("out.png", dpi=100, facecolor=fig.get_facecolor())
